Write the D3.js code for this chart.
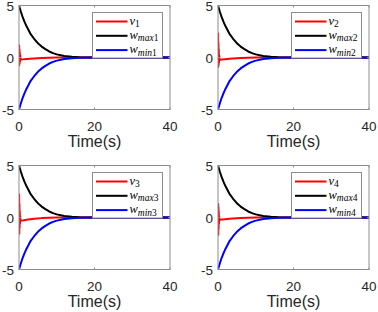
<!DOCTYPE html>
<html>
<head>
<meta charset="utf-8">
<script src="https://cdn.jsdelivr.net/npm/d3@7"></script>
<style>
  body { margin: 0; background: #fff; }
  svg text { font-family: "Liberation Sans", Arial, sans-serif; }
</style>
</head>
<body>
<div id="chart"></div>
<script>
// time samples for the bounding curves
const tW = [0, 0.5, 1, 1.5, 2, 3, 4, 5, 6, 7, 8, 9, 10, 12, 14, 16, 20, 25, 30, 40];
const wMax = [5, 4.4, 3.85, 3.4, 3.0, 2.3, 1.8, 1.38, 1.05, 0.8, 0.58, 0.42, 0.3, 0.15, 0.07, 0.03, 0.01, 0, 0, 0];
const wMin = [-5, -4.4, -3.85, -3.4, -3.0, -2.3, -1.8, -1.38, -1.05, -0.8, -0.58, -0.42, -0.3, -0.15, -0.07, -0.03, -0.01, 0, 0, 0];

// time samples for the v signals (fast oscillation right at the start)
const tV = [0, 0.04, 0.08, 0.12, 0.16, 0.2, 0.26, 0.32, 0.4, 0.6, 1, 2, 3, 4, 6, 8, 10, 15, 40];
const v1 = [0, 1.15, -0.75, 0.8, -0.55, 0.5, -0.4, 0.2, -0.2, -0.2, -0.18, -0.15, -0.12, -0.09, -0.05, -0.02, 0, 0, 0];
const v2 = [0, 2.3, -0.9, 1.4, -0.7, 0.8, -0.5, 0.2, -0.25, -0.22, -0.2, -0.16, -0.12, -0.09, -0.05, -0.02, 0, 0, 0];
const v3 = [0, 2.2, -1.55, 1.3, -1.0, 0.6, -0.6, 0.1, -0.3, -0.3, -0.28, -0.22, -0.17, -0.12, -0.06, -0.03, 0, 0, 0];
const v4 = [0, 1.3, -1.65, 1.0, -1.1, 0.6, -0.6, 0.1, -0.25, -0.22, -0.2, -0.16, -0.12, -0.09, -0.05, -0.02, 0, 0, 0];

const vSeries = [v1, v2, v3, v4];
const xTicks = [0, 20, 40];
const yTicks = [-5, 0, 5];
const xLabel = "Time(s)";
const colors = { v: "#ff0000", wMax: "#000000", wMin: "#0000ff" };

const width = 378, height = 312;
const svg = d3.select("#chart").append("svg")
	.attr("width", width)
	.attr("height", height);

// axes boxes [left, top]
const panelPos = [[19, 5.5], [218, 5.5], [19, 165.5], [218, 165.5]];
const pw = 151, ph = 104;

const axisColor = "#8c8c8c";
const textColor = "#262626";

vSeries.forEach((v, i) => {
	const [left, top] = panelPos[i];
	const n = i + 1;

	const x = d3.scaleLinear().domain([0, 40]).range([0, pw]);
	const y = d3.scaleLinear().domain([-5, 5]).range([ph, 0]);

	const g = svg.append("g").attr("transform", "translate(" + left + "," + top + ")");

	g.append("clipPath").attr("id", "clip" + n)
		.append("rect").attr("width", pw).attr("height", ph);

	const line = d3.line()
		.x(d => x(d[0]))
		.y(d => y(d[1]));

	const plot = g.append("g").attr("clip-path", "url(#clip" + n + ")");
	const series = [
		{ t: tV, vals: v, color: colors.v },
		{ t: tW, vals: wMax, color: colors.wMax },
		{ t: tW, vals: wMin, color: colors.wMin }
	];
	series.forEach(s => {
		plot.append("path")
			.attr("d", line(s.t.map((t, k) => [t, s.vals[k]])))
			.style("fill", "none")
			.style("stroke", s.color)
			.style("stroke-width", "2px")
			.style("stroke-linejoin", "round");
	});

	// box
	g.append("rect")
		.attr("width", pw).attr("height", ph)
		.style("fill", "none")
		.style("stroke", axisColor)
		.style("stroke-width", "1px");

	// inward ticks
	const tl = 2;
	xTicks.forEach(t => {
		g.append("line").attr("x1", x(t)).attr("x2", x(t)).attr("y1", ph).attr("y2", ph - tl).style("stroke", axisColor);
		g.append("line").attr("x1", x(t)).attr("x2", x(t)).attr("y1", 0).attr("y2", tl).style("stroke", axisColor);
		g.append("text")
			.attr("x", x(t)).attr("y", ph + 21)
			.attr("text-anchor", "middle")
			.style("font-size", "13.5px")
			.style("fill", textColor)
			.text(t);
	});
	yTicks.forEach(t => {
		g.append("line").attr("x1", 0).attr("x2", tl).attr("y1", y(t)).attr("y2", y(t)).style("stroke", axisColor);
		g.append("line").attr("x1", pw).attr("x2", pw - tl).attr("y1", y(t)).attr("y2", y(t)).style("stroke", axisColor);
		g.append("text")
			.attr("x", -5).attr("y", y(t) + 5)
			.attr("text-anchor", "end")
			.style("font-size", "13.5px")
			.style("fill", textColor)
			.text(t);
	});

	g.append("text")
		.attr("x", pw / 2).attr("y", ph + 37)
		.attr("text-anchor", "middle")
		.style("font-size", "16px")
		.style("fill", textColor)
		.text(xLabel);

	// legend
	const lg = g.append("g").attr("transform", "translate(" + (pw - 77.5) + ",7)");
	lg.append("rect")
		.attr("width", 70).attr("height", 45.5)
		.style("fill", "#fff")
		.style("stroke", axisColor)
		.style("stroke-width", "1px");

	const entries = [
		{ main: "v", sub: "", num: String(n), color: colors.v },
		{ main: "w", sub: "max", num: String(n), color: colors.wMax },
		{ main: "w", sub: "min", num: String(n), color: colors.wMin }
	];
	entries.forEach((e, k) => {
		const ry = 9 + k * 14.3;
		lg.append("line")
			.attr("x1", 3.5).attr("x2", 35)
			.attr("y1", ry).attr("y2", ry)
			.style("stroke", e.color)
			.style("stroke-width", "2px");
		const txt = lg.append("text")
			.attr("x", 37).attr("y", ry + 3)
			.style("font-family", "'Liberation Serif', 'Times New Roman', serif")
			.style("font-size", "12.5px")
			.style("fill", "#000");
		txt.append("tspan").style("font-style", "italic").text(e.main);
		if (e.sub) {
			txt.append("tspan").attr("dy", 2.5).style("font-style", "italic").style("font-size", "9.5px").text(e.sub);
			txt.append("tspan").style("font-size", "9.5px").text(e.num);
		} else {
			txt.append("tspan").attr("dy", 2.5).style("font-size", "9.5px").text(e.num);
		}
	});
});
</script>
</body>
</html>
